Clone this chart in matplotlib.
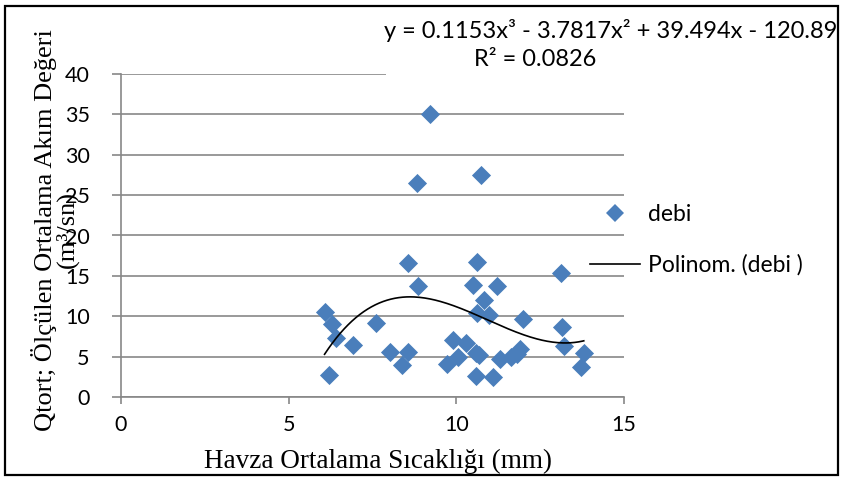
import numpy as np
import matplotlib
matplotlib.use("Agg")
import matplotlib.pyplot as plt
from matplotlib.patches import Rectangle
from matplotlib.lines import Line2D

W, H = 843, 478

# havza ortalama sicakligi (x) ve debi (y)
sicaklik = [6.07, 6.28, 6.40, 6.21, 6.93, 7.60, 8.02, 8.37, 8.57, 8.57,
            8.87, 8.84, 9.21, 9.71, 9.91, 10.06, 10.29, 10.50, 10.62, 10.75,
            10.63, 10.83, 10.98, 11.22, 12.00, 13.11, 13.15, 13.20, 13.80, 13.71,
            10.60, 11.08, 11.30, 11.62, 11.90, 10.69, 10.60, 11.80]
debi = [10.57, 9.0, 7.27, 2.72, 6.44, 9.2, 5.6, 3.96, 5.6, 16.55,
        13.7, 26.5, 35.1, 4.1, 7.06, 4.9, 6.65, 13.9, 16.75, 27.5,
        10.4, 12.0, 10.15, 13.8, 9.65, 15.3, 8.7, 6.3, 5.5, 3.75,
        2.6, 2.5, 4.7, 4.9, 5.9, 5.2, 5.5, 5.3]

# 3. derece polinom trend cizgisi katsayilari
poly_coef = [0.1153, -3.7817, 39.494, -120.89]
r_squared = 0.0826

x_ticks = [0, 5, 10, 15]
y_ticks = [0, 5, 10, 15, 20, 25, 30, 35, 40]

BLUE = "#4a7ebb"
GRID = "#878787"
SANS = ["Lato", "DejaVu Sans"]
SERIF = ["Liberation Serif", "DejaVu Serif"]

fig = plt.figure(figsize=(W / 100, H / 100), dpi=100)
ax = fig.add_axes([121 / W, 1 - 397 / H, (624 - 121) / W, (397 - 74) / H])

ax.scatter(sicaklik, debi, marker="D", s=95, color=BLUE, linewidths=0, zorder=3)

xs = np.linspace(min(sicaklik), max(sicaklik), 200)
ax.plot(xs, np.polyval(poly_coef, xs), color="black", lw=1.2, zorder=4)

ax.set_xlim(0, 15)
ax.set_ylim(0, 40)
ax.set_xticks(x_ticks)
ax.set_yticks(y_ticks)
ax.grid(axis="y", color=GRID, lw=1.2)
ax.set_axisbelow(True)
for s in ("top", "right"):
    ax.spines[s].set_visible(False)
for s in ("left", "bottom"):
    ax.spines[s].set_color(GRID)
    ax.spines[s].set_linewidth(1.2)
ax.tick_params(axis="y", length=6.5, width=1.2, color=GRID, pad=16)
ax.tick_params(axis="x", length=5, width=1.2, color=GRID, pad=8)
for lab in ax.get_xticklabels() + ax.get_yticklabels():
    lab.set_family(SANS)
    lab.set_fontsize(15.5)

# eksen basliklari
fig.text(378 / W, 1 - 461 / H, "Havza Ortalama Sıcaklığı (mm)",
         family=SERIF, fontsize=19.5, ha="center", va="center")
fig.text(55 / W, 1 - 230 / H, "Qtort; Ölçülen Ortalama Akım Değeri\n(m³/sn)",
         family=SERIF, fontsize=19, ha="center", va="center",
         rotation=90, multialignment="center", linespacing=0.95)

# denklem etiketi (beyaz zemin kilavuz cizgisini orter)
fig.patches.append(Rectangle((386 / W, 1 - 77 / H), (838 - 386) / W, (77 - 8) / H,
                             transform=fig.transFigure, facecolor="white",
                             edgecolor="none", zorder=1))
a, b, c, d = poly_coef
eq = f"y = {a:.4f}x³ - {abs(b):.4f}x² + {c:.3f}x - {abs(d):.2f}"
fig.text(837 / W, 1 - 31 / H, eq, family=SANS, fontsize=17,
         ha="right", va="center", zorder=2)
fig.text(535 / W, 1 - 60 / H, f"R² = {r_squared:.4f}", family=SANS, fontsize=17,
         ha="center", va="center", zorder=2)

# lejant
handles = [Line2D([], [], marker="D", ls="none", color=BLUE, markersize=9, mew=0),
           Line2D([], [], color="black", lw=1.2)]
fig.legend(handles, ["debi", "Polinom. (debi )"], loc="center left",
           bbox_to_anchor=(590 / W, 1 - 240 / H), frameon=False,
           prop={"family": SANS, "size": 16.5}, handlelength=2.2,
           handletextpad=0.35, labelspacing=1.25, borderpad=0, borderaxespad=0)

# dis cerceve
fig.patches.append(Rectangle((5 / W, 1 - 475 / H), (838 - 5) / W, (475 - 6) / H,
                             transform=fig.transFigure, facecolor="none",
                             edgecolor="black", lw=1.6, zorder=5))

fig.savefig("out.png", dpi=100)
